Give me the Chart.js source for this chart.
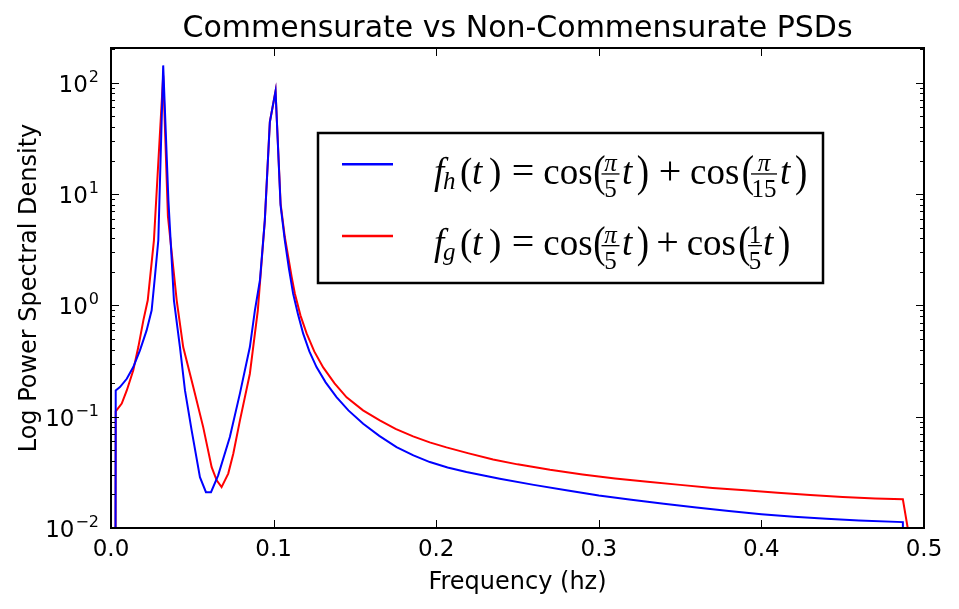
<!DOCTYPE html>
<html><head><meta charset="utf-8">
<script src="https://cdn.jsdelivr.net/npm/chart.js@4.4.1/dist/chart.umd.min.js"></script>
<style>html,body{margin:0;padding:0;background:#fff;}#wrap{width:959px;height:609px;}</style>
</head><body><div id="wrap"><canvas id="c" width="959" height="609"></canvas></div>
<script>
// ---- data ----
const freqH = [0, 0.0029, 0.0055, 0.0097, 0.0137, 0.0178, 0.0219, 0.0250, 0.0270, 0.0291, 0.0321, 0.0353, 0.0387, 0.0424, 0.0455, 0.0496, 0.0547, 0.0584, 0.0615, 0.0659, 0.0731, 0.0793, 0.0854, 0.0885, 0.0916, 0.0946, 0.0977, 0.1012, 0.1043, 0.1069, 0.1094, 0.1120, 0.1150, 0.1182, 0.122, 0.1264, 0.132, 0.1387, 0.146, 0.1551, 0.165, 0.1756, 0.186, 0.1961, 0.207, 0.2186, 0.2391, 0.26, 0.28, 0.30, 0.32, 0.34, 0.36, 0.38, 0.40, 0.42, 0.44, 0.46, 0.487, 0.488];
const psdH  = [1e-30, 0.172, 0.1845, 0.219, 0.279, 0.394, 0.596, 0.902, 1.80, 3.84, 143, 8.78, 1.11, 0.422, 0.172, 0.0753, 0.0286, 0.0210, 0.0210, 0.0297, 0.0656, 0.162, 0.422, 0.902, 1.68, 5.80, 44.4, 84.2, 7.91, 3.84, 2.15, 1.274, 0.830, 0.557, 0.386, 0.279, 0.2033, 0.150, 0.1139, 0.0865, 0.0672, 0.0533, 0.0449, 0.0391, 0.0350, 0.0318, 0.0277, 0.0244, 0.0218, 0.0196, 0.0179, 0.0165, 0.0153, 0.0142, 0.0133, 0.0126, 0.0121, 0.0117, 0.0113, 1e-4];
const freqG = [0, 0.0029, 0.0066, 0.0097, 0.0137, 0.0168, 0.0199, 0.0226, 0.0264, 0.0321, 0.0350, 0.0404, 0.0444, 0.0506, 0.0567, 0.0619, 0.0650, 0.0680, 0.0721, 0.0752, 0.0793, 0.0854, 0.0903, 0.0946, 0.0977, 0.1012, 0.1043, 0.1069, 0.1111, 0.1131, 0.1165, 0.1203, 0.125, 0.1305, 0.1375, 0.1449, 0.155, 0.1653, 0.175, 0.1858, 0.196, 0.2063, 0.22, 0.235, 0.25, 0.27, 0.29, 0.31, 0.33, 0.35, 0.37, 0.39, 0.41, 0.43, 0.45, 0.47, 0.487, 0.4908];
const psdG  = [1e-30, 0.1116, 0.131, 0.172, 0.261, 0.422, 0.733, 1.11, 3.84, 116, 6.31, 1.11, 0.422, 0.1845, 0.0806, 0.0352, 0.0268, 0.0233, 0.0308, 0.0465, 0.0926, 0.243, 0.902, 5.80, 44.4, 84.2, 8.2, 4.11, 1.80, 1.27, 0.813, 0.560, 0.386, 0.277, 0.199, 0.149, 0.1139, 0.0926, 0.0777, 0.0665, 0.0588, 0.0530, 0.0468, 0.0413, 0.0373, 0.0333, 0.0303, 0.0279, 0.0260, 0.0244, 0.0229, 0.0218, 0.0207, 0.0198, 0.0190, 0.0184, 0.0181, 0.0085];
const xTickLabels = ['0.0', '0.1', '0.2', '0.3', '0.4', '0.5'];
const yTickExponents = ['\u22122', '\u22121', '0', '1', '2'];
const titleText = 'Commensurate vs Non-Commensurate PSDs';
const xLabel = 'Frequency (hz)';
const yLabel = 'Log Power Spectral Density';

const toXY = (fs, vs) => fs.map((f, i) => ({x: f, y: vs[i]}));
const SANS = '"DejaVu Sans", sans-serif';
const SERIF = '"Liberation Serif", "DejaVu Serif", serif';
const MF = 37;   // legend math font size
const SF = 25;   // legend script/fraction font size

function txt(ctx, s, x, y, size, italic, align) {
  ctx.font = (italic ? 'italic ' : '') + size + 'px ' + SERIF;
  ctx.textAlign = align || 'left';
  ctx.textBaseline = 'alphabetic';
  ctx.fillText(s, x, y);
}
function bigParen(ctx, s, x, y) {
  ctx.save();
  ctx.font = MF + 'px ' + SERIF;
  ctx.textAlign = 'left';
  ctx.textBaseline = 'alphabetic';
  ctx.translate(x, y + 2);
  ctx.scale(1, 1.22);
  ctx.fillText(s, 0, 0);
  ctx.restore();
}
function frac(ctx, num, numItalic, den, cx, B, half) {
  txt(ctx, num, cx, B - 12.5, SF, numItalic, 'center');
  txt(ctx, den, cx, B + 13.5, SF, false, 'center');
  ctx.fillRect(cx - half, B - 10.2, 2 * half, 1.3);
}

const decor = {
  id: 'decor',
  afterDatasetsDraw(chart) {
    const ctx = chart.ctx, a = chart.chartArea;
    const xs = chart.scales.x, ys = chart.scales.y;
    ctx.save();
    ctx.fillStyle = '#000'; ctx.strokeStyle = '#000';
    // ticks (inward, all four sides)
    ctx.lineWidth = 1;
    xs.ticks.forEach((t) => {
      const px = Math.round(xs.getPixelForValue(t.value)) + 0.5;
      ctx.beginPath();
      ctx.moveTo(px, a.bottom); ctx.lineTo(px, a.bottom - 8);
      ctx.moveTo(px, a.top); ctx.lineTo(px, a.top + 8);
      ctx.stroke();
    });
    ys.ticks.forEach((t) => {
      const v = t.value;
      const e = Math.floor(Math.log10(v) + 1e-9);
      const sig = v / Math.pow(10, e);
      const isMajor = Math.abs(sig - 1) < 1e-6;
      const isMinor = !isMajor && Math.abs(sig - Math.round(sig)) < 1e-6 && sig >= 2 && sig <= 9;
      if (!isMajor && !isMinor) return;
      const len = isMajor ? 8 : 4;
      const py = Math.round(ys.getPixelForValue(v)) + 0.5;
      ctx.beginPath();
      ctx.moveTo(a.left, py); ctx.lineTo(a.left + len, py);
      ctx.moveTo(a.right, py); ctx.lineTo(a.right - len, py);
      ctx.stroke();
    });
    // frame
    ctx.lineWidth = 2;
    ctx.strokeRect(a.left, a.top, a.right - a.left, a.bottom - a.top);

    // x tick labels
    ctx.font = '23px ' + SANS; ctx.textAlign = 'center'; ctx.textBaseline = 'alphabetic';
    xs.ticks.forEach((t, i) => {
      ctx.fillText(xTickLabels[i], xs.getPixelForValue(t.value), 556);
    });
    // y tick labels 10^k
    ys.ticks.forEach((t) => {
      const lg = Math.log10(t.value);
      const k = Math.round(lg);
      if (Math.abs(lg - k) > 1e-6) return;
      const ex = yTickExponents[k + 2];
      if (ex === undefined) return;
      const py = ys.getPixelForValue(t.value);
      ctx.font = '16px ' + SANS;
      const we = ctx.measureText(ex).width;
      ctx.textAlign = 'left';
      const right = a.left - 12;
      ctx.fillText(ex, right - we, py - 1);
      ctx.font = '23px ' + SANS;
      ctx.textAlign = 'right';
      ctx.fillText('10', right - we - 1, py + 9);
    });
    // axis labels
    ctx.font = '24px ' + SANS; ctx.textAlign = 'center';
    ctx.fillText(xLabel, (a.left + a.right) / 2, 589);
    ctx.save();
    ctx.translate(36, (a.top + a.bottom) / 2);
    ctx.rotate(-Math.PI / 2);
    ctx.fillText(yLabel, 0, 0);
    ctx.restore();
    // title
    ctx.font = '30px ' + SANS; ctx.textAlign = 'center';
    ctx.fillText(titleText, (a.left + a.right) / 2, 37);

    // legend
    const L = 318, T = 133, R = 823, Bt = 283;
    ctx.fillStyle = '#fff';
    ctx.fillRect(L, T, R - L, Bt - T);
    ctx.lineWidth = 2.5; ctx.strokeStyle = '#000';
    ctx.strokeRect(L, T, R - L, Bt - T);
    const B1 = 183.5, B2 = 255.2;
    ctx.lineWidth = 2.5;
    ctx.strokeStyle = chart.data.datasets[0].borderColor;
    ctx.beginPath(); ctx.moveTo(342, 164.3); ctx.lineTo(393, 164.3); ctx.stroke();
    ctx.strokeStyle = chart.data.datasets[1].borderColor;
    ctx.beginPath(); ctx.moveTo(342, 236); ctx.lineTo(393, 236); ctx.stroke();
    ctx.fillStyle = '#000';
    // line 1: f_h(t) = cos(pi/5 t) + cos(pi/15 t)
    txt(ctx, 'f', 434, B1, MF, true);
    txt(ctx, 'h', 443, B1 + 5, SF, true);
    txt(ctx, '(', 460, B1, MF, false);
    txt(ctx, 't', 472, B1, MF, true);
    txt(ctx, ')', 489, B1, MF, false);
    txt(ctx, '=', 523, B1, MF + 3, false, 'center');
    txt(ctx, 'cos', 543.3, B1, MF, false);
    bigParen(ctx, '(', 593.3, B1);
    frac(ctx, '\u03c0', true, '5', 610.5, B1, 9);
    txt(ctx, 't', 622, B1, MF, true);
    bigParen(ctx, ')', 636.7, B1);
    txt(ctx, '+', 670, B1, MF + 3, false, 'center');
    txt(ctx, 'cos', 690, B1, MF, false);
    bigParen(ctx, '(', 741.7, B1);
    frac(ctx, '\u03c0', true, '15', 764, B1, 13);
    txt(ctx, 't', 780, B1, MF, true);
    bigParen(ctx, ')', 795, B1);
    // line 2: f_g(t) = cos(pi/5 t) + cos(1/5 t)
    txt(ctx, 'f', 434, B2, MF, true);
    txt(ctx, 'g', 443, B2 + 5, SF, true);
    txt(ctx, '(', 460, B2, MF, false);
    txt(ctx, 't', 472, B2, MF, true);
    txt(ctx, ')', 489, B2, MF, false);
    txt(ctx, '=', 523, B2, MF + 3, false, 'center');
    txt(ctx, 'cos', 543.3, B2, MF, false);
    bigParen(ctx, '(', 593.3, B2);
    frac(ctx, '\u03c0', true, '5', 610.5, B2, 9);
    txt(ctx, 't', 622, B2, MF, true);
    bigParen(ctx, ')', 636.7, B2);
    txt(ctx, '+', 667.5, B2, MF + 3, false, 'center');
    txt(ctx, 'cos', 686.7, B2, MF, false);
    bigParen(ctx, '(', 738.3, B2);
    frac(ctx, '1', false, '5', 755, B2, 7);
    txt(ctx, 't', 763, B2, MF, true);
    bigParen(ctx, ')', 778, B2);
    ctx.restore();
  }
};

new Chart(document.getElementById('c'), {
  type: 'line',
  data: {
    datasets: [
      {label: 'f_h', data: toXY(freqH, psdH), borderColor: '#0000ff', borderWidth: 2, pointRadius: 0, tension: 0, fill: false},
      {label: 'f_g', data: toXY(freqG, psdG), borderColor: '#ff0000', borderWidth: 2, pointRadius: 0, tension: 0, fill: false}
    ]
  },
  options: {
    responsive: false, animation: false, devicePixelRatio: 1,
    layout: {padding: {left: 0, right: 35, top: 48, bottom: 0}},
    scales: {
      x: {type: 'linear', min: 0, max: 0.5, ticks: {stepSize: 0.1, display: false},
          grid: {display: false}, border: {display: false},
          afterFit: (s) => { s.height = 81; }},
      y: {type: 'logarithmic', min: 0.01, max: 205, ticks: {display: false},
          grid: {display: false}, border: {display: false},
          afterFit: (s) => { s.width = 111; }}
    },
    plugins: {legend: {display: false}, tooltip: {enabled: false}, title: {display: false}}
  },
  plugins: [decor]
});
</script></body></html>
